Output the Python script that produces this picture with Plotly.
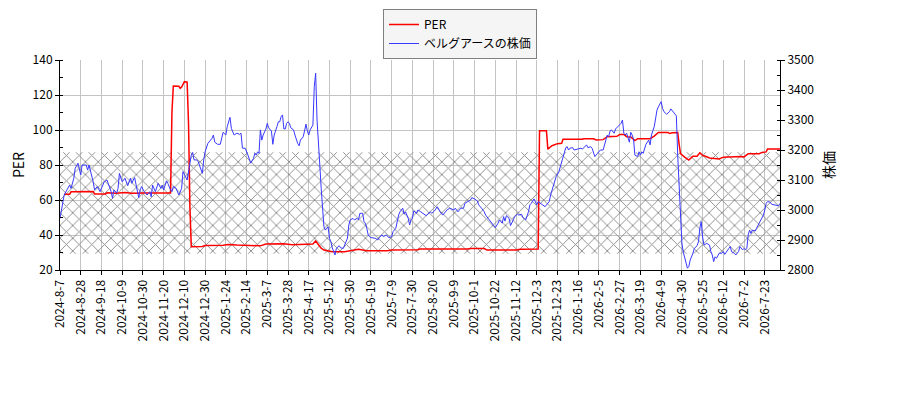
import plotly.graph_objects as go

# trading-day index of each reading (0 = 2024-8-7)
per_day = [3, 7, 8, 22, 24, 25, 33, 34, 40, 41, 47, 52, 61, 70, 80, 81, 82, 86, 87, 88,
           89, 90, 92, 93, 94, 95, 103, 105, 118, 122, 128, 140, 145, 149, 157, 162, 168, 176, 183, 185,
           187, 189, 191, 195, 197, 206, 208, 211, 216, 218, 222, 237, 240, 259, 260, 295, 297, 307, 309, 330,
           333, 346, 347, 352, 353, 356, 360, 363, 364, 378, 379, 386, 388, 393, 396, 403, 405, 408, 410, 413,
           416, 418, 427, 430, 433, 440, 441, 443, 447, 448, 449, 452, 455, 458, 461, 463, 465, 467, 470, 477,
           480, 493, 495, 498, 506, 508, 511, 512, 521]
per_val = [63.3, 63.3, 64.7, 64.8, 64.8, 63.5, 63.5, 64.2, 64.2, 63.8, 64.3, 63.8, 64.0, 64.0, 64.0, 110.0, 125.1, 125.0, 123.8, 124.5,
           126.0, 127.6, 127.3, 104.0, 56.0, 33.3, 33.4, 34.0, 34.2, 34.6, 34.3, 34.2, 33.8, 34.8, 34.9, 35.0, 34.5, 34.6, 34.8, 36.6,
           34.2, 32.5, 31.4, 30.9, 30.5, 30.5, 30.9, 31.1, 31.9, 31.6, 31.0, 31.0, 31.4, 31.6, 32.0, 32.0, 32.3, 32.3, 31.4, 31.4,
           31.8, 32.0, 99.6, 99.6, 89.1, 91.0, 92.2, 92.4, 94.7, 94.7, 95.0, 95.0, 94.3, 94.5, 96.2, 96.4, 97.5, 97.5, 96.2, 96.0,
           93.9, 95.0, 95.0, 96.5, 98.6, 98.6, 98.0, 98.4, 98.6, 91.8, 86.5, 84.5, 82.8, 85.0, 85.0, 87.0, 85.5, 85.0, 84.0, 83.5,
           84.5, 84.8, 84.6, 86.5, 86.5, 87.2, 87.5, 89.2, 89.2]

price_day = [0, 3, 5, 7, 8, 10, 11, 13, 15, 16, 19, 20, 21, 22, 24, 25, 27, 29, 32, 34,
             35, 37, 38, 39, 41, 42, 43, 44, 45, 47, 48, 49, 51, 52, 53, 54, 56, 57, 58, 59,
             61, 63, 65, 66, 67, 68, 69, 71, 73, 74, 75, 77, 78, 80, 81, 82, 84, 86, 88, 89,
             90, 92, 95, 96, 97, 99, 100, 102, 103, 104, 105, 107, 108, 109, 110, 111, 112, 114, 116, 117,
             118, 120, 121, 123, 124, 126, 128, 130, 131, 132, 134, 136, 137, 138, 140, 141, 142, 143, 144, 145,
             146, 147, 149, 150, 151, 153, 154, 155, 157, 158, 159, 160, 161, 162, 163, 164, 165, 166, 167, 169,
             170, 171, 172, 173, 174, 176, 178, 179, 180, 181, 183, 184, 185, 186, 187, 188, 189, 190, 191, 192,
             193, 194, 195, 196, 197, 198, 199, 200, 202, 203, 205, 206, 208, 209, 210, 212, 213, 215, 216, 217,
             219, 220, 221, 222, 223, 224, 225, 228, 230, 231, 233, 234, 236, 238, 240, 241, 243, 245, 246, 248,
             249, 250, 252, 253, 254, 255, 256, 258, 259, 261, 263, 265, 268, 269, 271, 273, 275, 277, 280, 282,
             285, 286, 288, 290, 292, 293, 295, 297, 298, 300, 302, 303, 305, 307, 308, 310, 312, 314, 315, 317,
             318, 320, 321, 322, 323, 325, 326, 328, 329, 331, 332, 334, 335, 337, 339, 340, 341, 343, 344, 345,
             346, 348, 349, 351, 352, 354, 355, 356, 357, 358, 359, 361, 362, 363, 364, 366, 367, 368, 369, 371,
             372, 374, 377, 378, 380, 381, 382, 384, 385, 387, 389, 391, 393, 394, 396, 397, 398, 399, 401, 402,
             404, 406, 407, 408, 409, 410, 412, 413, 414, 415, 416, 418, 419, 420, 421, 422, 424, 425, 426, 427,
             428, 430, 431, 432, 433, 435, 436, 437, 439, 441, 442, 444, 446, 447, 448, 449, 450, 451, 453, 454,
             455, 456, 458, 459, 461, 462, 463, 464, 465, 466, 468, 470, 471, 472, 473, 474, 475, 477, 479, 480,
             481, 483, 484, 485, 486, 488, 489, 490, 491, 492, 494, 495, 496, 497, 498, 499, 500, 501, 503, 504,
             505, 506, 507, 509, 510, 511, 512, 514, 515, 517, 518, 520, 521]
price_val = [2972, 3050, 3067, 3083, 3072, 3106, 3139, 3156, 3117, 3150, 3150, 3133, 3150, 3133, 3094, 3067, 3078, 3061, 3094, 3100,
             3089, 3061, 3039, 3067, 3056, 3072, 3122, 3111, 3094, 3106, 3094, 3081, 3106, 3089, 3100, 3108, 3063, 3041, 3067, 3078,
             3061, 3050, 3061, 3044, 3083, 3072, 3061, 3089, 3072, 3083, 3067, 3097, 3089, 3067, 3061, 3078, 3072, 3050, 3072, 3128,
             3117, 3100, 3183, 3192, 3167, 3167, 3161, 3133, 3122, 3167, 3194, 3222, 3230, 3233, 3239, 3250, 3226, 3219, 3219, 3244,
             3259, 3250, 3278, 3309, 3272, 3250, 3256, 3252, 3256, 3206, 3206, 3183, 3167, 3156, 3172, 3189, 3183, 3194, 3189, 3267,
             3233, 3250, 3270, 3289, 3274, 3263, 3219, 3250, 3278, 3294, 3294, 3311, 3317, 3270, 3270, 3289, 3294, 3289, 3274, 3267,
             3250, 3233, 3222, 3214, 3233, 3244, 3286, 3263, 3250, 3267, 3283, 3411, 3456, 3300, 3200, 3150, 3072, 3006, 2944, 2933,
             2939, 2944, 2906, 2894, 2874, 2861, 2850, 2872, 2881, 2874, 2872, 2883, 2906, 2950, 2967, 2972, 2967, 2972, 2967, 2989,
             2989, 2961, 2956, 2939, 2917, 2911, 2908, 2906, 2900, 2908, 2917, 2911, 2917, 2908, 2911, 2928, 2939, 2983, 2994, 3006,
             2986, 2994, 2972, 2950, 2967, 2972, 2997, 2989, 3000, 2994, 2986, 2981, 2994, 2989, 2997, 3011, 2994, 2983, 3000, 3006,
             3000, 3006, 2994, 3006, 3006, 3022, 3028, 3033, 3041, 3037, 3030, 3017, 3006, 2994, 2983, 2972, 2961, 2950, 2941, 2956,
             2967, 2956, 2978, 2963, 2981, 2972, 2948, 2967, 2978, 2986, 2983, 2986, 2975, 2967, 2994, 3017, 3022, 3037, 3028, 3017,
             3028, 3022, 3019, 3011, 3017, 3028, 3050, 3067, 3078, 3100, 3111, 3128, 3144, 3161, 3183, 3208, 3211, 3200, 3206, 3208,
             3200, 3203, 3206, 3203, 3211, 3217, 3208, 3211, 3206, 3178, 3189, 3200, 3200, 3217, 3250, 3244, 3263, 3267, 3256, 3270,
             3281, 3289, 3300, 3256, 3250, 3256, 3226, 3259, 3250, 3237, 3183, 3178, 3194, 3183, 3194, 3189, 3219, 3226, 3233, 3217,
             3250, 3278, 3306, 3333, 3344, 3361, 3339, 3328, 3319, 3328, 3337, 3326, 3314, 3180, 3080, 2960, 2890, 2860, 2828, 2806,
             2811, 2833, 2856, 2872, 2881, 2894, 2940, 2961, 2910, 2883, 2889, 2883, 2861, 2850, 2828, 2844, 2839, 2856, 2856, 2861,
             2852, 2863, 2872, 2878, 2861, 2856, 2850, 2856, 2861, 2878, 2867, 2872, 2867, 2872, 2917, 2933, 2922, 2933, 2930, 2939,
             2948, 2956, 2967, 2983, 3000, 3022, 3028, 3026, 3019, 3017, 3014, 3014, 3022]

# shaded PER band
band_per = [29.3, 87.3]

tick_labels = ['2024-8-7', '2024-8-28', '2024-9-18', '2024-10-9', '2024-10-30', '2024-11-20', '2024-12-10',
               '2024-12-30', '2025-1-24', '2025-2-14', '2025-3-7', '2025-3-28', '2025-4-17', '2025-5-12',
               '2025-5-30', '2025-6-19', '2025-7-9', '2025-7-30', '2025-8-20', '2025-9-9', '2025-10-1',
               '2025-10-22', '2025-11-12', '2025-12-3', '2025-12-23', '2026-1-16', '2026-2-5', '2026-2-27',
               '2026-3-19', '2026-4-9', '2026-4-30', '2026-5-25', '2026-6-12', '2026-7-2', '2026-7-23']
tick_step = 15

first = price_day[0]
last = price_day[-1]
font = 'Noto Sans CJK JP, DejaVu Sans, sans-serif'

# the page body adds an 8px margin, so the figure is a bit smaller and everything is set 8px up/left
width, height = 884, 384
plot_l, plot_r, plot_t, plot_b = 52, 772, 52, 262
paper_h = plot_b
y_domain = [0, (plot_b - plot_t) / paper_h]

fig = go.Figure()
fig.add_trace(go.Scatter(x=[first, last, last, first, first],
                         y=[band_per[0], band_per[0], band_per[1], band_per[1], band_per[0]],
                         mode='lines', fill='toself', line=dict(width=0),
                         fillcolor='rgba(0,0,0,0)',
                         fillpattern=dict(shape='x', size=9, solidity=0.2, fgcolor='#8c8c8c',
                                          bgcolor='rgba(0,0,0,0)', fgopacity=1),
                         showlegend=False, hoverinfo='skip'))
fig.add_trace(go.Scatter(x=per_day, y=per_val, name='PER', mode='lines',
                         line=dict(color='#ff0000', width=1.5)))
fig.add_trace(go.Scatter(x=price_day, y=price_val, name='ベルグアースの株価', mode='lines',
                         line=dict(color='#3838ff', width=1), yaxis='y2'))

axis_common = dict(showline=True, linecolor='black', linewidth=1, ticks='outside', ticklen=4,
                   tickcolor='black', zeroline=False, automargin=False,
                   tickfont=dict(size=12, color='black'))

fig.update_layout(
    width=width, height=height,
    margin=dict(l=plot_l, r=width - plot_r, t=0, b=height - plot_b),
    paper_bgcolor='white', plot_bgcolor='white',
    font=dict(family=font, size=12, color='black'),
    xaxis=dict(range=[first, last], tickvals=list(range(0, last, tick_step)), ticktext=tick_labels,
               tickangle=-90, showgrid=True, gridcolor='#c4c4c4', gridwidth=1, **axis_common),
    yaxis=dict(domain=y_domain, range=[20, 140], dtick=20, showgrid=True, gridcolor='#c4c4c4', gridwidth=1,
               title=dict(text='PER', standoff=4),
               minor=dict(dtick=10, ticks='inside', ticklen=3, tickcolor='black', showgrid=False),
               **axis_common),
    yaxis2=dict(range=[2800, 3500], dtick=100, overlaying='y', side='right', showgrid=False,
                title=dict(text='株価', standoff=10),
                minor=dict(dtick=50, ticks='inside', ticklen=3, tickcolor='black', showgrid=False),
                **axis_common),
    legend=dict(x=(383 - 8 - plot_l) / (plot_r - plot_l), y=(plot_b - 1) / paper_h,
                xanchor='left', yanchor='top', bgcolor='#f5f5f5',
                bordercolor='#808080', borderwidth=1, font=dict(size=12), itemwidth=30,
                tracegroupgap=0),
)

fig.write_html("out.html")
